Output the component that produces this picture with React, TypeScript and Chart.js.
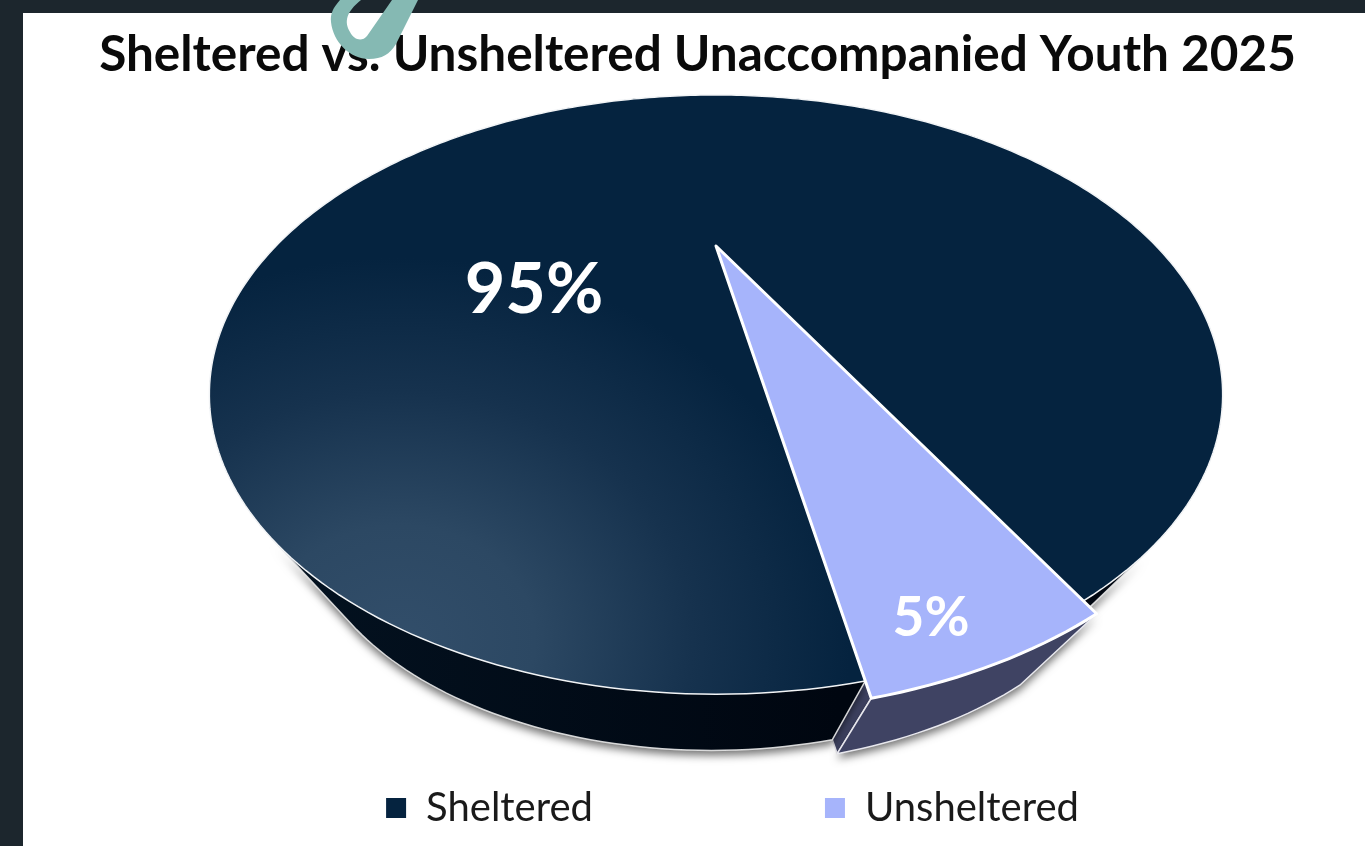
import React, { useEffect, useRef } from "react";
import { Chart, registerables } from "chart.js";

Chart.register(...registerables);

const TITLE = "Sheltered vs. Unsheltered Unaccompanied Youth 2025";
const categories = ["Sheltered", "Unsheltered"];
const shares = [95, 5];
const topColors = ["#05233f", "#a6b4fb"];
const wallColors = ["#010a16", "#3f4363"];

// Perspective projection of the pie's unit disc onto the page
const P = { cx: 716, cy: 246, a: 440, b: 226, k: 0.4958 };
const VP = { x: 692, y: 990, s: 0.81 };
type Pt = { x: number; y: number };
const project = (r: number, t: number): Pt => {
  const x = r * Math.cos(t);
  const y = r * Math.sin(t);
  const w = 1 - P.k * y;
  return { x: P.cx + (P.a * x) / w, y: P.cy + (P.b * y) / w };
};
const lower = (p: Pt): Pt => ({
  x: VP.x + VP.s * (p.x - VP.x),
  y: VP.y + VP.s * (p.y - VP.y),
});
const arcPts = (r: number, a0: number, a1: number) => {
  const n = Math.max(2, Math.ceil(Math.abs(a1 - a0) / (Math.PI / 180)));
  const pts: Pt[] = [];
  for (let i = 0; i <= n; i++) pts.push(project(r, a0 + ((a1 - a0) * i) / n));
  return pts;
};
const poly = (ctx: CanvasRenderingContext2D, pts: Pt[], close = true) => {
  ctx.beginPath();
  pts.forEach((p, i) => (i ? ctx.lineTo(p.x, p.y) : ctx.moveTo(p.x, p.y)));
  if (close) ctx.closePath();
};
const withShadow = (ctx: CanvasRenderingContext2D, draw: () => void) => {
  ctx.save();
  ctx.shadowColor = "rgba(0,0,0,0.55)";
  ctx.shadowBlur = 8;
  ctx.shadowOffsetY = 5;
  draw();
  ctx.restore();
};

const pie3d = {
  id: "pie3d",
  beforeDraw(chart: any) {
    const { ctx, width, height } = chart;
    ctx.save();
    ctx.fillStyle = "#1c262d";
    ctx.fillRect(0, 0, width, height);
    ctx.fillStyle = "#ffffff";
    ctx.fillRect(23, 13, width - 23, height - 13);
    ctx.restore();
  },
  afterLayout(chart: any) {
    chart.legend.left += 35;
    chart.legend.right += 35;
  },
  beforeDatasetDraw(chart: any) {
    const ctx: CanvasRenderingContext2D = chart.ctx;
    const [dark, light] = chart.getDatasetMeta(0).data;
    const lr = 1.02;
    ctx.save();
    ctx.lineJoin = "round";

    const dPts = arcPts(1, dark.startAngle, dark.endAngle);
    const lPts = arcPts(lr, light.startAngle, light.endAngle);
    const apex = project(0, 0);
    const corner = lPts[lPts.length - 1];

    // side face of the pulled-out slice, seen past the end of the large wall
    poly(ctx, [apex, corner, lower(corner), lower(apex)]);
    ctx.fillStyle = wallColors[1];
    ctx.strokeStyle = "#e8e8ee";
    ctx.lineWidth = 1.5;
    ctx.fill();
    ctx.stroke();

    // silhouette of the large slice's wall: tangents seen from the vanishing point
    const slope = (p: Pt) => (p.x - VP.x) / (VP.y - p.y);
    let iL = 0;
    let iR = 0;
    dPts.forEach((p, i) => {
      if (slope(p) < slope(dPts[iL])) iL = i;
      if (slope(p) > slope(dPts[iR])) iR = i;
    });
    const leftArc = dPts.slice(0, iL + 1);
    const rightArc = dPts.slice(iR);
    const leftShape = [...leftArc, ...leftArc.slice().reverse().map(lower)];
    const rightShape = [...rightArc, ...rightArc.slice().reverse().map(lower)];
    withShadow(ctx, () => {
      ctx.fillStyle = wallColors[0];
      poly(ctx, leftShape);
      ctx.fill();
      poly(ctx, rightShape);
      ctx.fill();
    });
    const wallGrad = ctx.createLinearGradient(320, 0, 840, 0);
    wallGrad.addColorStop(0, "#03111f");
    wallGrad.addColorStop(1, "#000610");
    ctx.fillStyle = wallGrad;
    poly(ctx, leftShape);
    ctx.fill();
    poly(ctx, rightShape);
    ctx.fill();
    ctx.strokeStyle = "rgba(235,235,235,0.9)";
    ctx.lineWidth = 1.5;
    poly(ctx, [leftArc[iL], ...leftArc.slice().reverse().map(lower), leftArc[0]], false);
    ctx.stroke();
    poly(ctx, [rightArc[0], ...rightArc.map(lower)], false);
    ctx.stroke();

    // outer wall of the pulled-out slice
    const lWall = [...lPts, ...lPts.slice().reverse().map(lower)];
    withShadow(ctx, () => {
      poly(ctx, lWall);
      ctx.fillStyle = wallColors[1];
      ctx.fill();
    });
    poly(ctx, lWall);
    ctx.strokeStyle = "#e8e8ee";
    ctx.lineWidth = 1.5;
    ctx.stroke();

    // top faces
    const topDark = [apex, ...dPts];
    ctx.save();
    poly(ctx, topDark);
    ctx.clip();
    ctx.fillStyle = topColors[0];
    ctx.fillRect(0, 0, 1365, 846);
    ctx.translate(400, 640);
    ctx.scale(1, 0.85);
    const g = ctx.createRadialGradient(0, 0, 0, 0, 0, 450);
    g.addColorStop(0, "#324e6a");
    g.addColorStop(0.3, "#2c4863");
    g.addColorStop(0.65, "#16324e");
    g.addColorStop(1, topColors[0]);
    ctx.fillStyle = g;
    ctx.fillRect(-500, -800, 1500, 1200);
    ctx.restore();
    poly(ctx, topDark);
    ctx.strokeStyle = "#f2f4f6";
    ctx.lineWidth = 1.5;
    ctx.stroke();

    poly(ctx, [apex, ...lPts]);
    ctx.fillStyle = topColors[1];
    ctx.fill();
    ctx.strokeStyle = "#ffffff";
    ctx.lineWidth = 3;
    ctx.stroke();
    ctx.restore();
    return false;
  },
  afterDatasetsDraw(chart: any) {
    const ctx: CanvasRenderingContext2D = chart.ctx;
    const total = shares.reduce((s, v) => s + v, 0);
    const spots = [
      { x: 534, y: 290, size: 70 },
      { x: 931, y: 618, size: 55 },
    ];
    ctx.save();
    ctx.fillStyle = "#ffffff";
    ctx.textAlign = "center";
    ctx.textBaseline = "middle";
    shares.forEach((v, i) => {
      ctx.font = `bold ${spots[i].size}px Lato`;
      ctx.fillText(`${Math.round((v / total) * 100)}%`, spots[i].x, spots[i].y);
    });
    ctx.restore();
  },
  afterDraw(chart: any) {
    // teal paper-clip ribbon crossing the top edge
    const ctx: CanvasRenderingContext2D = chart.ctx;
    ctx.save();
    ctx.fillStyle = "#85b9b3";
    ctx.beginPath();
    ctx.moveTo(340, 0);
    ctx.bezierCurveTo(333, 8, 330, 14, 331, 22);
    ctx.bezierCurveTo(333, 42, 350, 59, 369, 59);
    ctx.bezierCurveTo(382, 59, 390, 54, 396, 44);
    ctx.lineTo(418, 0);
    ctx.lineTo(392, 0);
    ctx.lineTo(367, 36);
    ctx.bezierCurveTo(362, 42, 354, 40, 350, 32);
    ctx.bezierCurveTo(344, 22, 346, 12, 361, 0);
    ctx.closePath();
    ctx.fill();
    ctx.restore();
  },
};

export default function App() {
  const ref = useRef<HTMLCanvasElement>(null);
  useEffect(() => {
    const chart = new Chart(ref.current as HTMLCanvasElement, {
      type: "pie",
      data: {
        labels: categories,
        datasets: [{ data: shares, backgroundColor: topColors, borderWidth: 0 }],
      },
      options: {
        animation: false,
        responsive: false,
        rotation: 170,
        layout: { padding: { left: 30, top: 25, bottom: 8 } },
        plugins: {
          title: {
            display: true,
            text: TITLE,
            color: "#0a0a0a",
            font: { family: "Lato", size: 49.5, weight: "bold" },
            padding: { top: 0, bottom: 10 },
          },
          legend: {
            display: true,
            position: "bottom",
            labels: {
              boxWidth: 20,
              boxHeight: 20,
              padding: 232,
              color: "#1a1a1a",
              font: { family: "Lato", size: 40 },
            },
          },
          tooltip: { enabled: false },
        },
      },
      plugins: [pie3d],
    } as any);
    return () => chart.destroy();
  }, []);
  return (
    <canvas
      ref={ref}
      width={1365}
      height={846}
      style={{ position: "absolute", left: 0, top: 0, display: "block" }}
    />
  );
}
